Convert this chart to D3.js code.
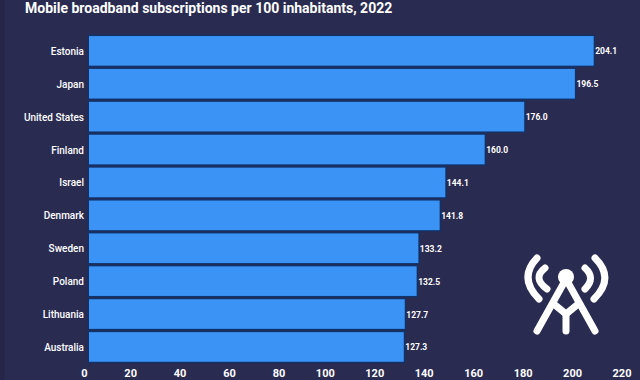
<!DOCTYPE html>
<html>
<head>
<meta charset="utf-8">
<script src="https://cdn.jsdelivr.net/npm/d3@7"></script>
<style>
    html, body { margin: 0; padding: 0; background: #2a2b51; overflow: hidden; }
    text { font-family: Roboto, sans-serif; fill: #fff; }
</style>
</head>
<body>
<svg id="chart"></svg>
<script>
const countries = ["Estonia", "Japan", "United States", "Finland", "Israel", "Denmark", "Sweden", "Poland", "Lithuania", "Australia"];
const subscriptions = [204.1, 196.5, 176.0, 160.0, 144.1, 141.8, 133.2, 132.5, 127.7, 127.3];
const xTicks = [0, 20, 40, 60, 80, 100, 120, 140, 160, 180, 200, 220];

const width = 640, height = 380;
const svg = d3.select("#chart").attr("width", width).attr("height", height);

// left edge of the frame is a bit darker in the picture
svg.append("rect").attr("width", 5).attr("height", height).attr("fill", "#25264a");

svg.append("text")
    .attr("x", 25)
    .attr("y", 13)
    .attr("font-size", 14)
    .attr("font-weight", 700)
    .text("Mobile broadband subscriptions per 100 inhabitants, 2022");

const x = d3.scaleLinear().domain([0, 220]).range([89, 633]);
const y = d3.scaleBand().domain(countries).range([34.4, 363.4]).paddingInner(0.1).paddingOuter(0.05);

// stroke goes under the fill so it closes the gap between the bars
svg.selectAll(".bar")
    .data(countries)
    .enter()
    .append("rect")
    .attr("class", "bar")
    .attr("x", x(0))
    .attr("y", d => y(d))
    .attr("width", (d, i) => x(subscriptions[i]) - x(0))
    .attr("height", y.bandwidth())
    .attr("fill", "#3b93f6")
    .attr("stroke", "#10336a")
    .attr("stroke-width", 2.6)
    .attr("paint-order", "stroke");

// value labels
svg.selectAll(".value")
    .data(countries)
    .enter()
    .append("text")
    .attr("class", "value")
    .attr("x", (d, i) => x(subscriptions[i]) + 1.5)
    .attr("y", d => y(d) + y.bandwidth() / 2 + 0.5)
    .attr("dy", "0.35em")
    .attr("font-size", 8.5)
    .attr("font-weight", 700)
    .text((d, i) => subscriptions[i].toFixed(1));

// y axis
const yAxis = svg.append("g")
    .attr("transform", "translate(84,0.8)")
    .call(d3.axisLeft(y).tickSize(0).tickPadding(0));
yAxis.select(".domain").remove();
yAxis.selectAll("text").attr("font-size", 10).attr("font-weight", 500).attr("fill", "#fff");

// x axis, labels sit to the left of their tick
const xAxis = svg.append("g")
    .attr("transform", "translate(0,369)")
    .call(d3.axisBottom(x).tickValues(xTicks).tickSize(0).tickPadding(0));
xAxis.select(".domain").remove();
xAxis.selectAll("text")
    .attr("text-anchor", "end")
    .attr("dx", -2)
    .attr("font-size", 11)
    .attr("font-weight", 700)
    .attr("fill", "#fff");

// antenna icon
const icon = svg.append("g")
    .attr("fill", "none")
    .attr("stroke", "#fff")
    .attr("stroke-linecap", "round")
    .attr("stroke-linejoin", "round")
    .attr("stroke-width", 7);
icon.append("path").attr("d", "M566 279L537 331");
icon.append("path").attr("d", "M566 279L595 331");
icon.append("path").attr("d", "M555 305L566 314L577 305");
icon.append("path").attr("d", "M566 314L566 331");
icon.append("path").attr("d", "M545 268Q532 278 547 289");
icon.append("path").attr("d", "M585 268Q596 278 585 289");
icon.append("path").attr("d", "M537 258Q518 278 539 299");
icon.append("path").attr("d", "M595 258Q615 278 594 299");
icon.append("circle").attr("cx", 566).attr("cy", 277).attr("r", 8).attr("fill", "#fff").attr("stroke", "none");
</script>
</body>
</html>
